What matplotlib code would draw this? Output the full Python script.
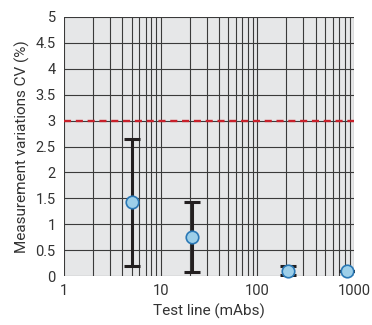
import matplotlib
matplotlib.use('Agg')
import matplotlib.pyplot as plt
import numpy as np

plt.rcParams['font.family'] = 'Roboto'

# dane
test_line = [5.1, 21, 210, 850]
cv = [1.42, 0.75, 0.1, 0.1]
err_low = [0.2, 0.07, 0.02, 0.1]
err_high = [2.65, 1.42, 0.19, 0.1]
limit = 3.0

fig = plt.figure(figsize=(3.72, 3.25), dpi=100)
ax = fig.add_axes([64/372, 1-276/325, 290/372, 259/325])
ax.set_facecolor('#e6e7e8')

ax.set_xscale('log')
ax.set_xlim(1, 1000)
ax.set_ylim(0, 5)
ax.set_yticks(np.arange(0, 5.01, 0.5))
ax.set_yticklabels(['0', '0.5', '1', '1.5', '2', '2.5', '3', '3.5', '4', '4.5', '5'])
ax.set_xticks([1, 10, 100, 1000])
ax.set_xticklabels(['1', '10', '100', '1000'])

ax.grid(True, which='both', axis='x', color='#3a3a3a', linewidth=0.8)
ax.grid(True, which='major', axis='y', color='#3a3a3a', linewidth=0.8)
ax.tick_params(which='both', length=0, labelsize=10.5, colors='#333333', pad=6)
for s in ax.spines.values():
    s.set_visible(False)

ax.axhline(limit, color='#c8202a', linestyle=(0, (3, 2)), linewidth=1.7, zorder=3)

yerr = [np.array(cv) - np.array(err_low), np.array(err_high) - np.array(cv)]
ax.errorbar(test_line, cv, yerr=yerr, fmt='none', ecolor='#231f20',
            elinewidth=2.2, capsize=5.5, capthick=2.2, zorder=4)
ax.plot(test_line, cv, 'o', markersize=9, markerfacecolor='#9dcfe9',
        markeredgecolor='#2a78b5', markeredgewidth=1.2, zorder=5, clip_on=False)

ax.set_xlabel('Test line (mAbs)', fontsize=11, color='#333333')
ax.set_ylabel('Measurement variations CV (%)', fontsize=11, color='#333333')

plt.savefig('out.png', dpi=100)
